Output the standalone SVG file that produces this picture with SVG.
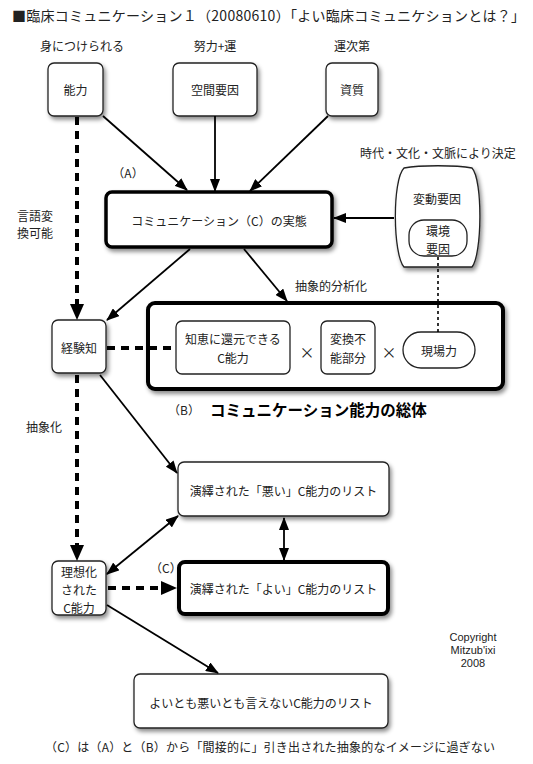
<svg xmlns="http://www.w3.org/2000/svg" width="533" height="764" viewBox="0 0 533 764">
<style>
text{font-family:"Noto Sans CJK JP","Noto Sans",sans-serif;font-size:12px;fill:#222;}
.c{text-anchor:middle;dominant-baseline:central;}
.l{dominant-baseline:central;}
.box{fill:#fff;stroke:#222;stroke-width:1.3;filter:url(#sh);}
.thick{fill:#fff;stroke:#000;stroke-width:3.5;filter:url(#sh);}
.inner{fill:#fff;stroke:#222;stroke-width:1.3;}
.ln{fill:none;stroke:#000;stroke-width:1.8;}
.dash{fill:none;stroke:#000;stroke-width:4;stroke-dasharray:8 6;}
.dot{fill:none;stroke:#000;stroke-width:1.6;stroke-dasharray:3 3;}
.lat{font-family:"Liberation Sans",Arial,sans-serif;font-size:11px;}
</style>
<defs>
<filter id="sh" x="-20%" y="-20%" width="150%" height="160%">
<feDropShadow dx="2" dy="3" stdDeviation="2" flood-color="#000" flood-opacity="0.45"/>
</filter>
<marker id="ah" markerUnits="userSpaceOnUse" markerWidth="13" markerHeight="10" refX="12" refY="5" orient="auto-start-reverse">
<path d="M0,0 L13,5 L0,10 Z" fill="#000"/>
</marker>
<marker id="bh" markerUnits="userSpaceOnUse" markerWidth="16" markerHeight="14" refX="0" refY="7" orient="auto">
<path d="M0,0 L16,7 L0,14 Z" fill="#000"/>
</marker>
</defs>
<rect width="533" height="764" fill="#fff"/>

<text x="12" y="15" class="l" style="font-size:14px" textLength="513" lengthAdjust="spacing">■臨床コミュニケーション１（20080610）「よい臨床コミュニケションとは？」</text>
<text x="82" y="45" class="c">身につけられる</text>
<text x="215" y="45" class="c">努力+運</text>
<text x="352" y="45" class="c">運次第</text>
<text x="128" y="172" class="c">（A）</text>
<text x="35" y="215" class="c">言語変</text>
<text x="35" y="232" class="c">換可能</text>
<text x="438" y="152" class="c">時代・文化・文脈により決定</text>
<text x="331" y="285" class="c">抽象的分析化</text>
<text x="44" y="426" class="c">抽象化</text>
<text x="168" y="409" class="l">（B）</text>
<text x="210" y="409" class="l" style="font-size:15.5px;font-weight:bold;fill:#000">コミュニケーション能力の総体</text>
<text x="150" y="567" class="l">（C）</text>
<text x="473" y="637" class="c lat">Copyright</text>
<text x="473" y="650" class="c lat">Mitzub'ixi</text>
<text x="473" y="663" class="c lat">2008</text>
<text x="45" y="746" class="l" textLength="450" lengthAdjust="spacing">（C）は（A）と（B）から「間接的に」引き出された抽象的なイメージに過ぎない</text>

<g id="node-nouryoku">
<rect class="box" x="48" y="63" width="55" height="53" rx="6"/>
<text x="75.5" y="89" class="c">能力</text>
</g>
<g id="node-kukan">
<rect class="box" x="173" y="63" width="84" height="53" rx="6"/>
<text x="215" y="89" class="c">空間要因</text>
</g>
<g id="node-shishitsu">
<rect class="box" x="326" y="63" width="52" height="53" rx="6"/>
<text x="352" y="89" class="c">資質</text>
</g>
<g id="node-comm">
<rect class="thick" x="106" y="192" width="226" height="55" rx="6"/>
<text x="219" y="220" class="c">コミュニケーション（C）の実態</text>
</g>
<g id="node-hendo">
<path class="box" d="M404,168 C420,165 456,165 472,168 C483,180 482,255 472,267 L404,267 C393,255 392,180 404,168 Z"/>
<text x="437" y="198" class="c">変動要因</text>
<rect class="inner" x="409" y="220" width="58" height="36" rx="15"/>
<text x="438" y="230" class="c">環境</text>
<text x="438" y="248" class="c">要因</text>
</g>
<g id="node-keiken">
<rect class="box" x="52" y="320" width="54" height="53" rx="6"/>
<text x="79" y="347" class="c">経験知</text>
</g>
<g id="node-sotai">
<rect class="thick" x="148" y="303" width="355" height="86" rx="7" style="stroke-width:4"/>
<rect class="inner" x="176" y="321" width="114" height="53" rx="6"/>
<text x="233" y="338" class="c">知恵に還元できる</text>
<text x="233" y="357" class="c">C能力</text>
<text x="307" y="351" class="c" style="font-size:15px">×</text>
<rect class="inner" x="321" y="321" width="54" height="53" rx="6"/>
<text x="348" y="338" class="c">変換不</text>
<text x="348" y="357" class="c">能部分</text>
<text x="389" y="351" class="c" style="font-size:15px">×</text>
<rect class="inner" x="403" y="332" width="72" height="36" rx="18"/>
<text x="439" y="350" class="c">現場力</text>
</g>
<g id="node-warui">
<rect class="box" x="178" y="462" width="211" height="54" rx="6"/>
<text x="283.5" y="490" class="c">演繹された「悪い」C能力のリスト</text>
</g>
<g id="node-risou">
<rect class="box" x="52" y="561" width="54" height="54" rx="6"/>
<text x="79" y="571" class="c">理想化</text>
<text x="79" y="589" class="c">された</text>
<text x="79" y="607" class="c">C能力</text>
</g>
<g id="node-yoi">
<rect class="thick" x="179" y="562" width="209" height="52" rx="6" style="stroke-width:4"/>
<text x="283.5" y="588" class="c">演繹された「よい」C能力のリスト</text>
</g>
<g id="node-neutral">
<rect class="box" x="134" y="674" width="254" height="54" rx="6"/>
<text x="261" y="702" class="c">よいとも悪いとも言えないC能力のリスト</text>
</g>

<g id="connectors">
<line class="ln" x1="103" y1="116" x2="187" y2="190" marker-end="url(#ah)"/>
<line class="ln" x1="215" y1="116" x2="215" y2="191" marker-end="url(#ah)"/>
<line class="ln" x1="328" y1="116" x2="250" y2="191" marker-end="url(#ah)"/>
<line class="ln" x1="394" y1="218" x2="334" y2="218" marker-end="url(#ah)"/>
<line class="ln" x1="190" y1="249" x2="107" y2="320" marker-end="url(#ah)"/>
<line class="ln" x1="244" y1="249" x2="287" y2="301" marker-end="url(#ah)"/>
<line class="dash" x1="77" y1="117" x2="77" y2="304" marker-end="url(#bh)"/>
<line class="dash" x1="107" y1="348" x2="176" y2="348"/>
<line class="dot" x1="438" y1="257" x2="438" y2="332"/>
<line class="dash" x1="77" y1="375" x2="77" y2="545" marker-end="url(#bh)"/>
<line class="ln" x1="100" y1="375" x2="177" y2="473" marker-end="url(#ah)"/>
<line class="ln" x1="107" y1="574" x2="178" y2="516" marker-start="url(#ah)" marker-end="url(#ah)"/>
<line class="ln" x1="284" y1="518" x2="284" y2="560" marker-start="url(#ah)" marker-end="url(#ah)"/>
<line class="dash" x1="108" y1="588" x2="161" y2="588" marker-end="url(#bh)"/>
<line class="ln" x1="107" y1="605" x2="218" y2="673" marker-end="url(#ah)"/>
</g>
</svg>
